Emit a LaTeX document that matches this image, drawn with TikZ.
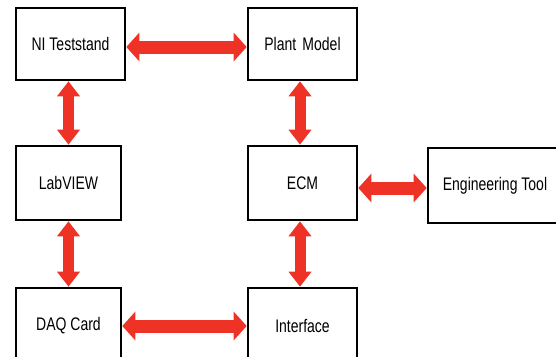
\documentclass[tikz,border=0pt]{standalone}
\usepackage{fontspec}
\setmainfont{Liberation Sans}
\usetikzlibrary{arrows.meta}
\definecolor{arrowred}{RGB}{238,50,38}
\tikzset{
  box/.style={draw=black, line width=2.6pt, fill=white, inner sep=0pt,
    font=\fontsize{14}{16}\selectfont},
  harrow/.style={draw=arrowred, line width=13pt,
    {Triangle[length=13pt,width=28pt]}-{Triangle[length=13pt,width=28pt]}},
  varrow/.style={draw=arrowred, line width=11pt,
    {Triangle[length=15pt,width=22pt]}-{Triangle[length=15pt,width=22pt]}},
}
\newcommand{\lbl}[1]{\scalebox{1}[1.3]{#1}}
\begin{document}
\begin{tikzpicture}[x=1pt,y=-1pt]
\useasboundingbox (0,0) rectangle (556,356);
\node[box, minimum width=109pt, minimum height=72pt] (ni) at (70.5,44) {\lbl{NI Teststand}};
\node[box, minimum width=109pt, minimum height=72pt] (plant) at (302.5,44) {\lbl{Plant\, Model}};
\node[box, minimum width=105pt, minimum height=74pt] (lab) at (68.5,183) {\lbl{LabVIEW}};
\node[box, minimum width=109pt, minimum height=74pt] (ecm) at (302.5,183) {\lbl{ECM}};
\node[box, minimum width=134pt, minimum height=75pt] (eng) at (495,185.5) {\lbl{Engineering Tool}};
\node[box, minimum width=105pt, minimum height=76pt] (daq) at (68.5,326) {\raisebox{1pt}{\lbl{DAQ Card}}};
\node[box, minimum width=109pt, minimum height=76pt] (intf) at (302.5,326) {\raisebox{1pt}{\lbl{Interface}}};
\draw[harrow] ([yshift=-3pt]ni.east) -- ([yshift=-3pt]ni.east -| plant.west);
\draw[harrow] ([yshift=-5pt]ecm.east) -- ([yshift=-5pt]ecm.east -| eng.west);
\draw[harrow] (daq.east) -- (intf.west);
\draw[varrow] (lab.north |- ni.south) -- (lab.north);
\draw[varrow] (lab.south) -- (daq.north);
\draw[varrow] ([xshift=-2.5pt]plant.south) -- ([xshift=-2.5pt]ecm.north);
\draw[varrow] ([xshift=-2.5pt]ecm.south) -- ([xshift=-2.5pt]intf.north);
\end{tikzpicture}
\end{document}
